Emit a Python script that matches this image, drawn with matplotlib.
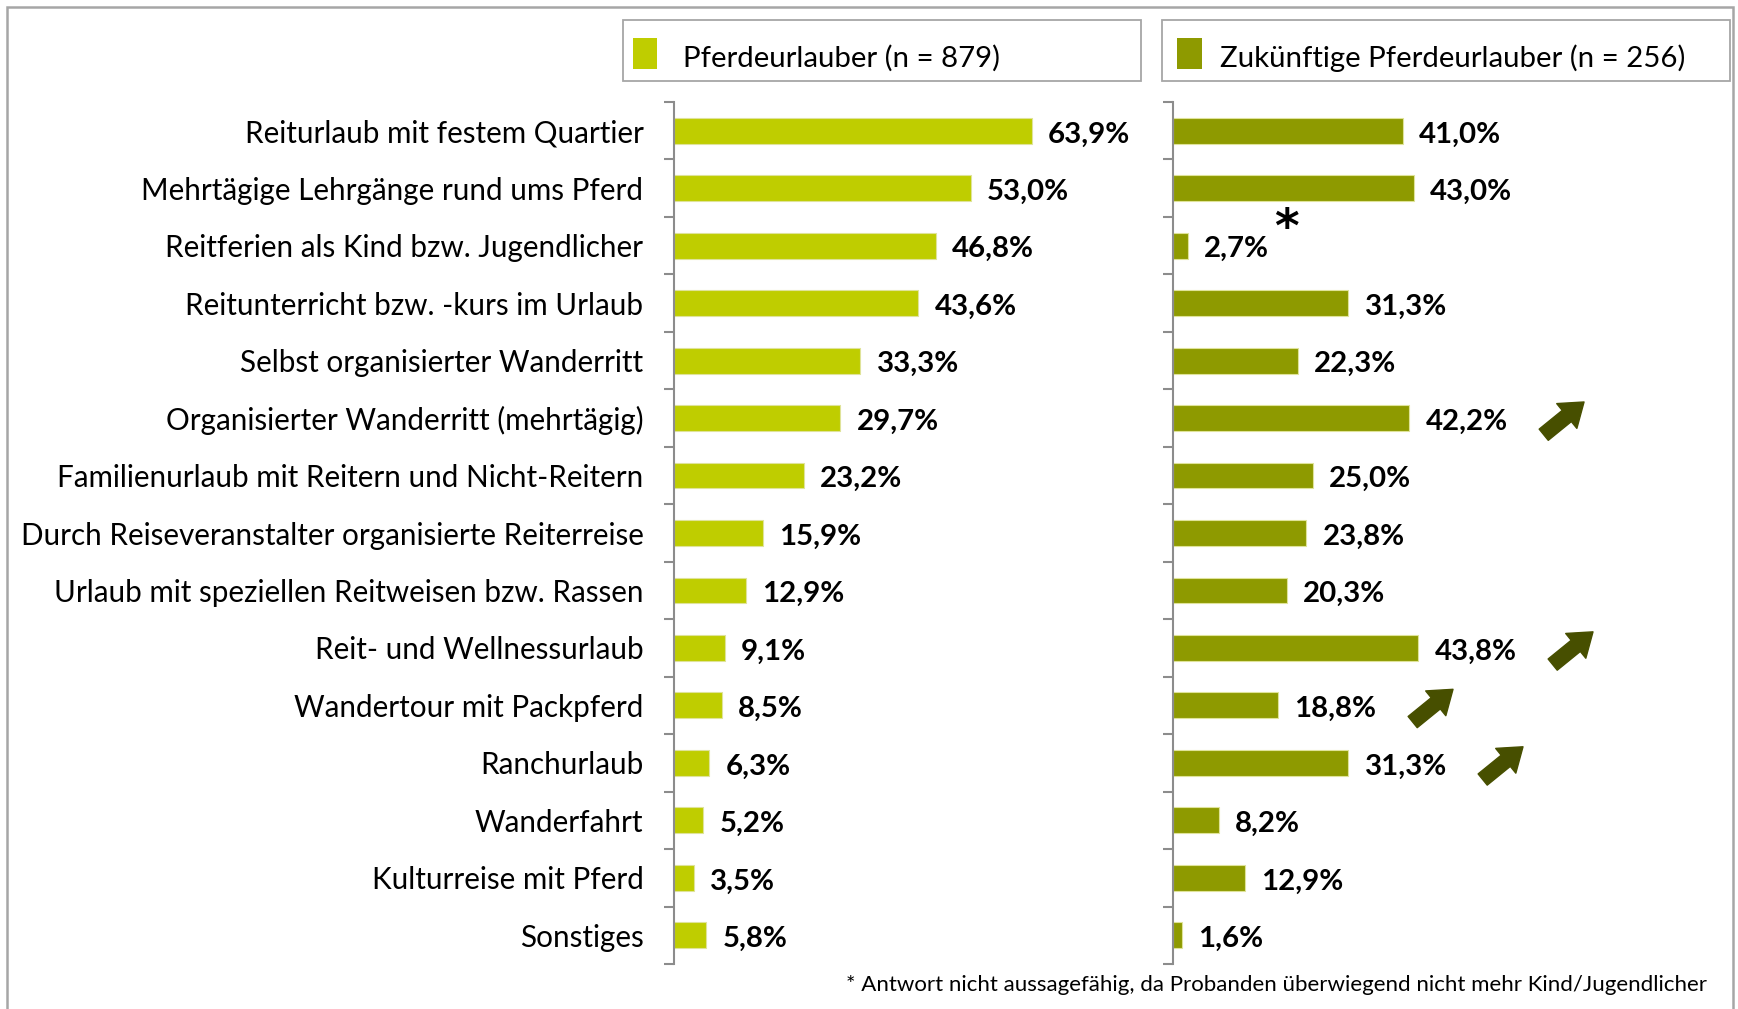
import matplotlib
matplotlib.use("Agg")
import matplotlib.pyplot as plt
from matplotlib.patches import Rectangle, FancyArrowPatch

categories = [
    "Reiturlaub mit festem Quartier",
    "Mehrtägige Lehrgänge rund ums Pferd",
    "Reitferien als Kind bzw. Jugendlicher",
    "Reitunterricht bzw. -kurs im Urlaub",
    "Selbst organisierter Wanderritt",
    "Organisierter Wanderritt (mehrtägig)",
    "Familienurlaub mit Reitern und Nicht-Reitern",
    "Durch Reiseveranstalter organisierte Reiterreise",
    "Urlaub mit speziellen Reitweisen bzw. Rassen",
    "Reit- und Wellnessurlaub",
    "Wandertour mit Packpferd",
    "Ranchurlaub",
    "Wanderfahrt",
    "Kulturreise mit Pferd",
    "Sonstiges",
]
pferdeurlauber = [63.9, 53.0, 46.8, 43.6, 33.3, 29.7, 23.2, 15.9, 12.9, 9.1, 8.5, 6.3, 5.2, 3.5, 5.8]
zukuenftige = [41.0, 43.0, 2.7, 31.3, 22.3, 42.2, 25.0, 23.8, 20.3, 43.8, 18.8, 31.3, 8.2, 12.9, 1.6]
legend_labels = ["Pferdeurlauber (n = 879)", "Zukünftige Pferdeurlauber (n = 256)"]
arrow_rows = [5, 9, 10, 11]
asterisk_row = 2
footnote = "* Antwort nicht aussagefähig, da Probanden überwiegend nicht mehr Kind/Jugendlicher"

C_LIGHT = "#bfcd00"
C_DARK = "#8e9a00"
C_ARROW = "#474f00"
C_AXIS = "#8c8c8c"
FONT = ["Lato", "DejaVu Sans"]

W, H = 1738, 1009
fig = plt.figure(figsize=(W / 100, H / 100), dpi=100)
plt.rcParams['font.family'] = FONT


def fx(px):
    return px / W


def fy(py):
    return 1 - py / H


PXPCT = 5.6
top_px, bot_px = 102, 964
axL = fig.add_axes([fx(674), fy(bot_px), fx(1150) - fx(674), fy(top_px) - fy(bot_px)])
axR = fig.add_axes([fx(1173), fy(bot_px), fx(1730) - fx(1173), fy(top_px) - fy(bot_px)])

n = len(categories)
ypos = list(range(n))
for ax, vals, col, right_px, left_px in [(axL, pferdeurlauber, C_LIGHT, 1150, 674),
                                         (axR, zukuenftige, C_DARK, 1730, 1173)]:
    ax.barh(ypos, vals, height=0.45, color=col, edgecolor="#dfe39a", linewidth=0.8)
    ax.set_ylim(n - 0.5, -0.5)
    ax.set_xlim(0, (right_px - left_px) / PXPCT)
    for s in ["top", "right", "bottom"]:
        ax.spines[s].set_visible(False)
    ax.spines["left"].set_color(C_AXIS)
    ax.spines["left"].set_linewidth(1.5)
    ax.set_xticks([])
    ax.set_yticks([i - 0.5 for i in range(n + 1)], minor=True)
    ax.tick_params(axis="y", which="minor", length=7, width=1.5, color=C_AXIS, direction="out")
    ax.set_yticks(ypos)
    ax.tick_params(axis="y", which="major", length=0, pad=22)
    ax.patch.set_alpha(0)
    for i, v in enumerate(vals):
        ax.text(v + 2.9, i + 0.02, f"{v:.1f}%".replace(".", ","), va="center_baseline", ha="left",
                fontsize=21.2, fontweight="bold", color="black", family=FONT)

axL.set_yticklabels(categories, fontsize=21.3, color="black", family=FONT)
axR.set_yticklabels([""] * n)

# arrows
for r in arrow_rows:
    v = zukuenftige[r]
    a = FancyArrowPatch((v + 24.0, r + 0.29), (v + 24.0 + 7.2, r - 0.28),
                        arrowstyle="simple,head_length=0.8,head_width=1.15,tail_width=0.52",
                        mutation_scale=20, color=C_ARROW, shrinkA=0, shrinkB=0, clip_on=False)
    axR.add_patch(a)

# asterisk
axR.text(zukuenftige[asterisk_row] + 17.6, asterisk_row - 0.07, "*", ha="center", va="baseline",
         fontsize=34, fontweight="bold", color="black", family=["DejaVu Sans"])

# outer border
fig.patches.append(Rectangle((fx(7), fy(1015)), fx(1733) - fx(7), fy(7) - fy(1015),
                             transform=fig.transFigure, fill=False, edgecolor="#a6a6a6",
                             linewidth=1.8, clip_on=False))

# legend boxes
for (x0, x1, sw0, sw1, tx, col, lab) in [(623, 1141, 633, 657, 683, C_LIGHT, legend_labels[0]),
                                        (1162, 1730, 1177, 1202, 1220, C_DARK, legend_labels[1])]:
    fig.patches.append(Rectangle((fx(x0), fy(81)), fx(x1) - fx(x0), fy(20) - fy(81),
                                 transform=fig.transFigure, fill=True, facecolor="white",
                                 edgecolor="#a6a6a6", linewidth=1.3))
    fig.patches.append(Rectangle((fx(sw0), fy(69)), fx(sw1) - fx(sw0), fy(38) - fy(69),
                                 transform=fig.transFigure, facecolor=col, edgecolor="none"))
    fig.text(fx(tx), fy(56), lab, ha="left", va="center_baseline", fontsize=21.2, color="black",
             family=FONT)

fig.text(fx(1707), fy(983), footnote, ha="right", va="center_baseline", fontsize=16,
         color="black", family=FONT)

fig.savefig("out.png", dpi=100, facecolor="white")
